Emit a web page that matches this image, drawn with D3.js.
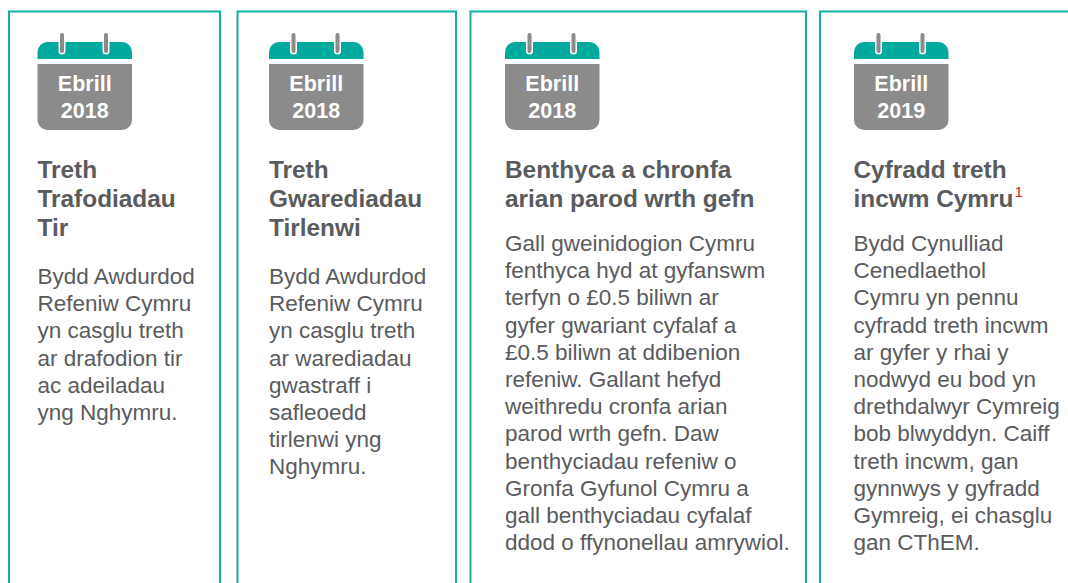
<!DOCTYPE html>
<html>
<head>
<meta charset="utf-8">
<script src="https://cdn.jsdelivr.net/npm/d3@7"></script>
<style>
html, body { margin: 0; padding: 0; background: #fff; overflow: hidden; }
text { font-family: "Liberation Sans", Arial, sans-serif; }
</style>
</head>
<body>
<div id="chart"></div>
<script>
// card contents, one entry per column
var months = ["Ebrill", "Ebrill", "Ebrill", "Ebrill"];
var years = ["2018", "2018", "2018", "2019"];
var titles = [
    ["Treth", "Trafodiadau", "Tir"],
    ["Treth", "Gwarediadau", "Tirlenwi"],
    ["Benthyca a chronfa", "arian parod wrth gefn"],
    ["Cyfradd treth", "incwm Cymru"]
];
var bodies = [
    ["Bydd Awdurdod", "Refeniw Cymru", "yn casglu treth", "ar drafodion tir", "ac adeiladau", "yng Nghymru."],
    ["Bydd Awdurdod", "Refeniw Cymru", "yn casglu treth", "ar warediadau", "gwastraff i", "safleoedd", "tirlenwi yng", "Nghymru."],
    ["Gall gweinidogion Cymru", "fenthyca hyd at gyfanswm", "terfyn o £0.5 biliwn ar", "gyfer gwariant cyfalaf a", "£0.5 biliwn at ddibenion", "refeniw. Gallant hefyd", "weithredu cronfa arian", "parod wrth gefn. Daw", "benthyciadau refeniw o", "Gronfa Gyfunol Cymru a", "gall benthyciadau cyfalaf", "ddod o ffynonellau amrywiol."],
    ["Bydd Cynulliad", "Cenedlaethol", "Cymru yn pennu", "cyfradd treth incwm", "ar gyfer y rhai y", "nodwyd eu bod yn", "drethdalwyr Cymreig", "bob blwyddyn. Caiff", "treth incwm, gan", "gynnwys y gyfradd", "Gymreig, ei chasglu", "gan CThEM."]
];
var footnotes = ["", "", "", "1"];

var cardLeft = [9, 237.5, 470.5, 820];
var cardRight = [220, 456, 806, 1080];
var iconLeft = [37.5, 269, 505, 854];
var textLeft = [37.5, 269, 505, 853.5];

var teal = "#00ab9e", grey = "#8b8b8b", ink = "#5a5b5d", red = "#d2232a";

var svg = d3.select("#chart").append("svg").attr("width", 1068).attr("height", 583);

var cards = svg.selectAll(".card")
    .data(d3.range(4))
    .enter().append("g")
    .attr("class", "card");

// border runs off the bottom of the picture
cards.append("path")
    .attr("d", i => `M${cardLeft[i]},590V11.5H${cardRight[i]}V590`)
    .attr("fill", "none")
    .attr("stroke", "#0fb0a5")
    .attr("stroke-width", 2);

// calendar icon
var icon = cards.append("g")
    .attr("transform", i => `translate(${iconLeft[i]},0)`);

icon.append("path")
    .attr("d", "M0,59V52a10,10 0 0 1 10,-10H84.5a10,10 0 0 1 10,10V59Z")
    .attr("fill", teal);

icon.append("path")
    .attr("d", "M0,64H94.5V120a10,10 0 0 1 -10,10H10a10,10 0 0 1 -10,-10Z")
    .attr("fill", grey);

[24.5, 68.5].forEach(function(rx) {
    icon.append("line")
        .attr("x1", rx).attr("x2", rx)
        .attr("y1", 35).attr("y2", 51)
        .attr("stroke", "#fff").attr("stroke-width", 7).attr("stroke-linecap", "round");
    icon.append("line")
        .attr("x1", rx).attr("x2", rx)
        .attr("y1", 35).attr("y2", 51)
        .attr("stroke", grey).attr("stroke-width", 4).attr("stroke-linecap", "round");
});

icon.append("text")
    .attr("x", 47.25).attr("y", 90.5)
    .attr("text-anchor", "middle")
    .attr("font-size", 21.5).attr("font-weight", "bold").attr("fill", "#fff")
    .text(i => months[i]);

icon.append("text")
    .attr("x", 47.25).attr("y", 118)
    .attr("text-anchor", "middle")
    .attr("font-size", 21.5).attr("font-weight", "bold").attr("fill", "#fff")
    .text(i => years[i]);

// headings
cards.each(function(i) {
    var card = d3.select(this);
    var head = card.selectAll(".head")
        .data(titles[i])
        .enter().append("text")
        .attr("class", "head")
        .attr("x", textLeft[i])
        .attr("y", (d, n) => 177.5 + n * 29)
        .attr("font-size", 24.4).attr("font-weight", "bold").attr("fill", ink)
        .text(d => d);

    if (footnotes[i]) {
        head.filter((d, n) => n == titles[i].length - 1)
            .append("tspan")
            .attr("dy", -10).attr("dx", 1)
            .attr("font-size", 15.5).attr("font-weight", "normal").attr("fill", red)
            .text(footnotes[i]);
    }

    var bodyTop = titles[i].length == 3 ? 284 : 251;
    card.selectAll(".body")
        .data(bodies[i])
        .enter().append("text")
        .attr("class", "body")
        .attr("x", textLeft[i])
        .attr("y", (d, n) => bodyTop + n * 27.2)
        .attr("font-size", 22.5).attr("fill", ink)
        .text(d => d);
});
</script>
</body>
</html>
